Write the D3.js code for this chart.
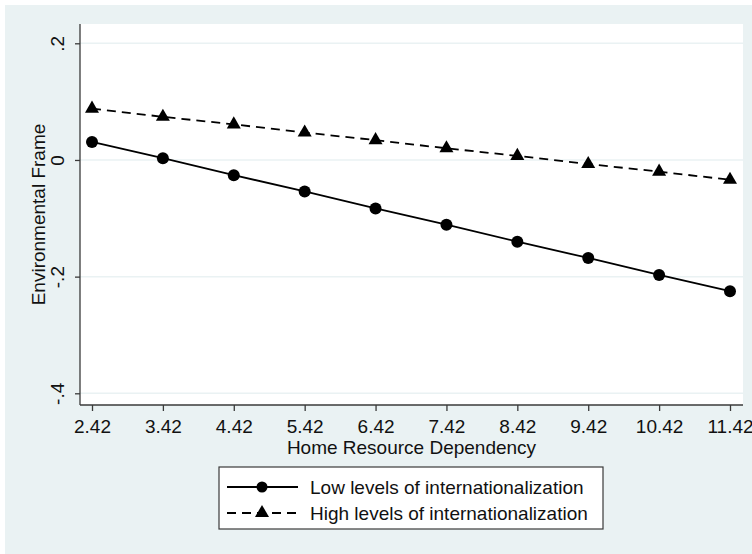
<!DOCTYPE html>
<html>
<head>
<meta charset="utf-8">
<script src="https://cdn.jsdelivr.net/npm/d3@7"></script>
<style>
  body { margin: 0; background: #fff; }
  text { font-family: "Liberation Sans", Arial, sans-serif; fill: #111; }
</style>
</head>
<body>
<div id="chartDiv"></div>
<script>
// values
var xTicks = [2.42, 3.42, 4.42, 5.42, 6.42, 7.42, 8.42, 9.42, 10.42, 11.42];
var lowVals = [0.031, 0.003, -0.026, -0.054, -0.083, -0.111, -0.140, -0.168, -0.197, -0.225];
var highVals = [0.088, 0.074, 0.061, 0.047, 0.034, 0.020, 0.007, -0.007, -0.020, -0.034];
var yTicks = [-0.4, -0.2, 0, 0.2];
var yTickLabels = ["-.4", "-.2", "0", ".2"];
var seriesNames = ["Low levels of internationalization", "High levels of internationalization"];

var svg = d3.select("#chartDiv").append("svg")
    .attr("width", 752)
    .attr("height", 554);

var plot = {left: 80, right: 743, top: 24, bottom: 405};

// graph region background
svg.append("rect")
    .attr("x", 5).attr("y", 5)
    .attr("width", 747).attr("height", 549)
    .attr("fill", "#eaf2f3");

svg.append("rect")
    .attr("x", plot.left).attr("y", plot.top)
    .attr("width", plot.right - plot.left).attr("height", plot.bottom - plot.top)
    .attr("fill", "#fff");

var x_scale = d3.scaleLinear()
    .domain([2.42, 11.42])
    .range([92, 730]);

var y_scale = d3.scaleLinear()
    .domain([-0.4, 0.2])
    .range([393.3, 43.3]);

// gridlines
svg.append("g").selectAll("line").data(yTicks).enter()
    .append("line")
    .attr("x1", plot.left).attr("x2", plot.right)
    .attr("y1", function(d){ return y_scale(d); })
    .attr("y2", function(d){ return y_scale(d); })
    .attr("stroke", "#eaf2f3")
    .attr("stroke-width", 1.5);

// y axis
var yAxis = d3.axisLeft(y_scale)
    .tickValues(yTicks)
    .tickSize(5)
    .tickFormat(function(d, i){ return yTickLabels[i]; });

var yGroup = svg.append("g")
    .attr("transform", "translate(" + plot.left + ",0)")
    .call(yAxis);
yGroup.select(".domain").attr("d", "M0," + plot.top + "V" + plot.bottom);
yGroup.selectAll("path, line").attr("stroke", "#3a3a3a").attr("stroke-width", 1.3);
yGroup.selectAll("text")
    .attr("font-size", 19)
    .attr("x", 0).attr("y", 0).attr("dy", 0)
    .attr("text-anchor", "middle")
    .attr("transform", "translate(-16,0) rotate(-90)");

// x axis
var xAxis = d3.axisBottom(x_scale)
    .tickValues(xTicks)
    .tickSize(6)
    .tickPadding(5)
    .tickFormat(function(d){ return d.toFixed(2); });

var xGroup = svg.append("g")
    .attr("transform", "translate(0," + plot.bottom + ")")
    .call(xAxis);
xGroup.select(".domain").attr("d", "M" + plot.left + ",0H" + plot.right);
xGroup.selectAll("path, line").attr("stroke", "#3a3a3a").attr("stroke-width", 1.3);
xGroup.selectAll("text").attr("font-size", 19).attr("dy", "0.9em");

// axis titles
svg.append("text")
    .attr("x", (plot.left + plot.right) / 2)
    .attr("y", 454)
    .attr("text-anchor", "middle")
    .attr("font-size", 19)
    .text("Home Resource Dependency");

svg.append("text")
    .attr("transform", "translate(45," + ((plot.top + plot.bottom) / 2) + ") rotate(-90)")
    .attr("text-anchor", "middle")
    .attr("font-size", 19)
    .text("Environmental Frame");

// lines
var lowData = xTicks.map(function(x, i){ return {x: x, y: lowVals[i]}; });
var highData = xTicks.map(function(x, i){ return {x: x, y: highVals[i]}; });

var line = d3.line()
    .x(function(d){ return x_scale(d.x); })
    .y(function(d){ return y_scale(d.y); });

svg.append("path").datum(lowData)
    .attr("d", line)
    .attr("fill", "none").attr("stroke", "#000").attr("stroke-width", 1.8);

svg.append("path").datum(highData)
    .attr("d", line)
    .attr("fill", "none").attr("stroke", "#000").attr("stroke-width", 1.8)
    .attr("stroke-dasharray", "9,6");

var tri = d3.symbol().type(d3.symbolTriangle).size(85);

svg.append("g").selectAll("circle").data(lowData).enter()
    .append("circle")
    .attr("cx", function(d){ return x_scale(d.x); })
    .attr("cy", function(d){ return y_scale(d.y); })
    .attr("r", 6)
    .attr("fill", "#000");

svg.append("g").selectAll("path").data(highData).enter()
    .append("path")
    .attr("d", tri)
    .attr("transform", function(d){ return "translate(" + x_scale(d.x) + "," + y_scale(d.y) + ")"; })
    .attr("fill", "#000");

// legend
var legend = svg.append("g");
legend.append("rect")
    .attr("x", 219).attr("y", 467)
    .attr("width", 384).attr("height", 62)
    .attr("fill", "#fff").attr("stroke", "#3a3a3a").attr("stroke-width", 1.2);

var rowY = [487, 513];
seriesNames.forEach(function(name, i){
  var g = legend.append("g");
  g.append("line")
      .attr("x1", 227).attr("x2", 298)
      .attr("y1", rowY[i]).attr("y2", rowY[i])
      .attr("stroke", "#000").attr("stroke-width", 1.8)
      .attr("stroke-dasharray", i === 1 ? "9,6" : null);
  if (i === 0) {
    g.append("circle").attr("cx", 262).attr("cy", rowY[i]).attr("r", 5.5).attr("fill", "#000");
  } else {
    g.append("path").attr("d", tri).attr("transform", "translate(262," + rowY[i] + ")").attr("fill", "#000");
  }
  g.append("text")
      .attr("x", 310).attr("y", rowY[i])
      .attr("dy", "0.35em")
      .attr("font-size", 19)
      .text(name);
});
</script>
</body>
</html>
